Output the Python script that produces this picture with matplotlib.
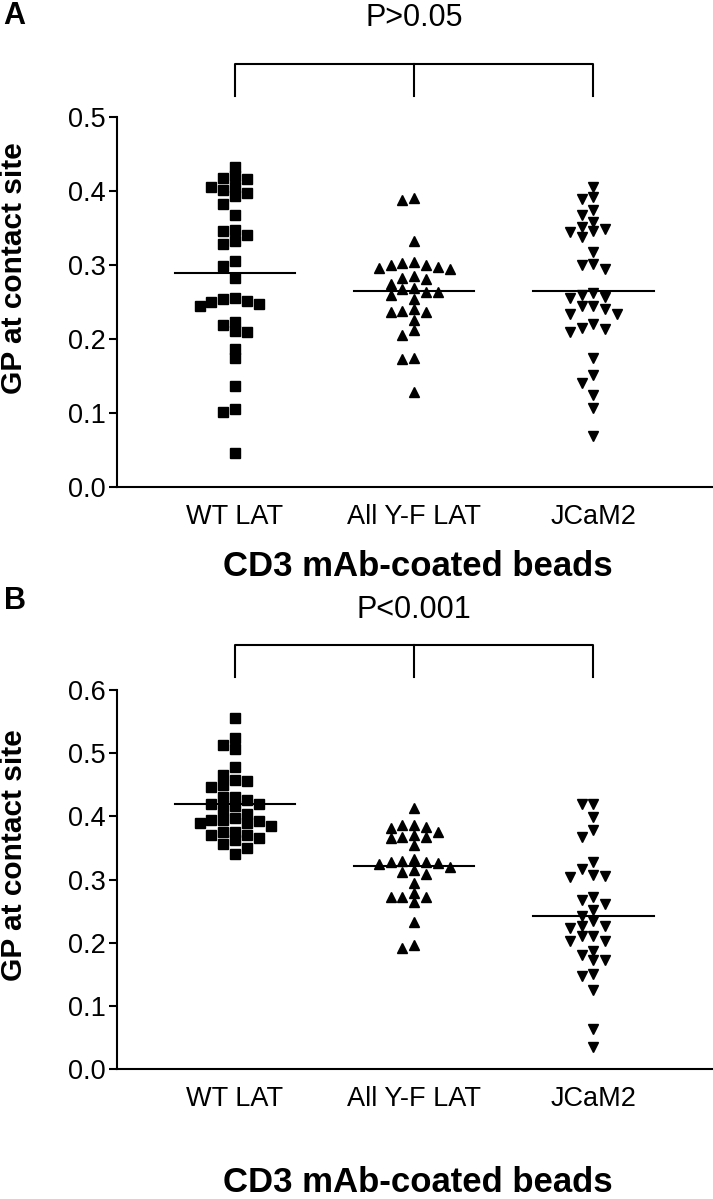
import numpy as np
import matplotlib
matplotlib.use('Agg')
import matplotlib.pyplot as plt

groups = ['WT LAT', 'All Y-F LAT', 'JCaM2']
markers = ['s', '^', 'v']

# panel A values
a_wt = [0.433, 0.420, 0.416, 0.417, 0.405, 0.405, 0.402, 0.398, 0.393, 0.382,
        0.367, 0.348, 0.341, 0.346, 0.328, 0.333, 0.306, 0.299, 0.283,
        0.254, 0.252, 0.248, 0.245, 0.250, 0.255, 0.219, 0.210, 0.211, 0.223,
        0.187, 0.175, 0.137, 0.105, 0.101, 0.046]
a_yf = [0.388, 0.391, 0.333, 0.304, 0.300, 0.297, 0.294, 0.296, 0.300, 0.303,
        0.285, 0.281, 0.274, 0.283, 0.267, 0.264, 0.259, 0.264, 0.269, 0.254,
        0.238, 0.236, 0.237, 0.240, 0.226, 0.206, 0.212, 0.174, 0.173, 0.128]
a_jc = [0.405, 0.392, 0.389, 0.375, 0.367, 0.358, 0.352, 0.346, 0.338, 0.344,
        0.349, 0.317, 0.302, 0.295, 0.300, 0.262, 0.257, 0.255, 0.259,
        0.245, 0.240, 0.234, 0.234, 0.245, 0.220, 0.213, 0.210, 0.215,
        0.175, 0.152, 0.140, 0.125, 0.107, 0.069]
a_means = [0.289, 0.265, 0.265]

# panel B values
b_wt = [0.556, 0.524, 0.513, 0.507, 0.478, 0.465, 0.457, 0.456, 0.449, 0.447,
        0.430, 0.426, 0.430, 0.416, 0.420, 0.420, 0.410, 0.404,
        0.397, 0.394, 0.390, 0.385, 0.389, 0.392, 0.395,
        0.376, 0.371, 0.366, 0.356, 0.362, 0.370, 0.375, 0.350, 0.340]
b_yf = [0.414, 0.387, 0.381, 0.376, 0.383, 0.387, 0.370, 0.367, 0.366, 0.368,
        0.354, 0.332, 0.327, 0.326, 0.320, 0.309, 0.325, 0.327, 0.330,
        0.312, 0.315, 0.294, 0.279, 0.273, 0.265, 0.272, 0.273, 0.232,
        0.192, 0.197]
b_jc = [0.420, 0.419, 0.399, 0.378, 0.368, 0.327, 0.316, 0.305, 0.304, 0.307,
        0.268, 0.272, 0.262, 0.251, 0.243, 0.235, 0.226, 0.224, 0.226,
        0.211, 0.203, 0.202, 0.210, 0.187, 0.181, 0.172, 0.173,
        0.150, 0.148, 0.125, 0.063, 0.035]
b_means = [0.419, 0.322, 0.242]

p_texts = ['P>0.05', 'P<0.001']

reg = ['Liberation Sans', 'DejaVu Sans']


def swarm(vals, thresh):
    # greedy column placement, like a dot plot
    vals = np.asarray(vals)
    order = np.argsort(vals)[::-1]
    slots = np.zeros(len(vals))
    placed = []
    for i in order:
        for s in [0, -1, 1, -2, 2, -3, 3, -4, 4, -5, 5]:
            if all(s != ps or abs(vals[i] - v) >= thresh for v, ps in placed):
                slots[i] = s
                placed.append((vals[i], s))
                break
    return slots


fig = plt.figure(figsize=(7.13, 11.99), dpi=100)

panels = [
    dict(data=[a_wt, a_yf, a_jc], means=a_means, rect=[0.164, 0.5938, 0.836, 0.3086],
         ymax=0.5, thresh=0.012, ly=0.592, xly=-0.216,
         br=(0.528, 0.572), py=0.634),
    dict(data=[b_wt, b_yf, b_jc], means=b_means, rect=[0.164, 0.1084, 0.836, 0.3161],
         ymax=0.6, thresh=0.014, ly=0.565, xly=-0.30,
         br=(0.621, 0.671), py=0.727),
]

for k, p in enumerate(panels):
    ax = fig.add_axes(p['rect'])
    for i, vals in enumerate(p['data']):
        x = i + swarm(vals, p['thresh']) * 0.066
        ax.plot(x, vals, linestyle='none', marker=markers[i], ms=7.8, color='black', mec='black')
        ax.plot([i - 0.335, i + 0.335], [p['means'][i]] * 2, color='black', lw=1.5)

    ticks = np.arange(0, p['ymax'] + 0.01, 0.1)
    ax.set_xlim(-0.659, 2.667)
    ax.set_ylim(0, p['ymax'])
    ax.set_yticks(ticks)
    ax.set_yticklabels(['%.1f' % t for t in ticks], family=reg, fontsize=19.5)
    ax.set_xticks([0, 1, 2])
    ax.set_xticklabels(groups, family=reg, fontsize=19.5)
    ax.tick_params(axis='x', length=0, pad=12)
    ax.tick_params(axis='y', length=6, width=1.5, pad=2)
    ax.spines['top'].set_visible(False)
    ax.spines['right'].set_visible(False)
    ax.spines['left'].set_linewidth(1.5)
    ax.spines['bottom'].set_linewidth(1.5)

    ax.set_ylabel('GP at contact site', family=reg, fontweight='bold', fontsize=21.5)
    ax.yaxis.set_label_coords(-0.149, p['ly'])
    ax.set_xlabel('CD3 mAb-coated beads', family=reg, fontweight='bold', fontsize=25)
    ax.xaxis.set_label_coords(0.505, p['xly'])
    ax.xaxis.label.set_va('center')

    # significance bracket
    bot, top = p['br']
    ax.plot([0, 0, 2, 2], [bot, top, top, bot], color='black', lw=1.5, clip_on=False)
    ax.plot([1, 1], [bot, top], color='black', lw=1.5, clip_on=False)
    ax.text(1, p['py'], p_texts[k], family=reg, fontsize=22, ha='center', va='center')

fig.text(0.005, 0.987, 'A', family=reg, fontweight='bold', fontsize=22, va='center')
fig.text(0.005, 0.499, 'B', family=reg, fontweight='bold', fontsize=22, va='center')

fig.savefig('out.png', dpi=100)
